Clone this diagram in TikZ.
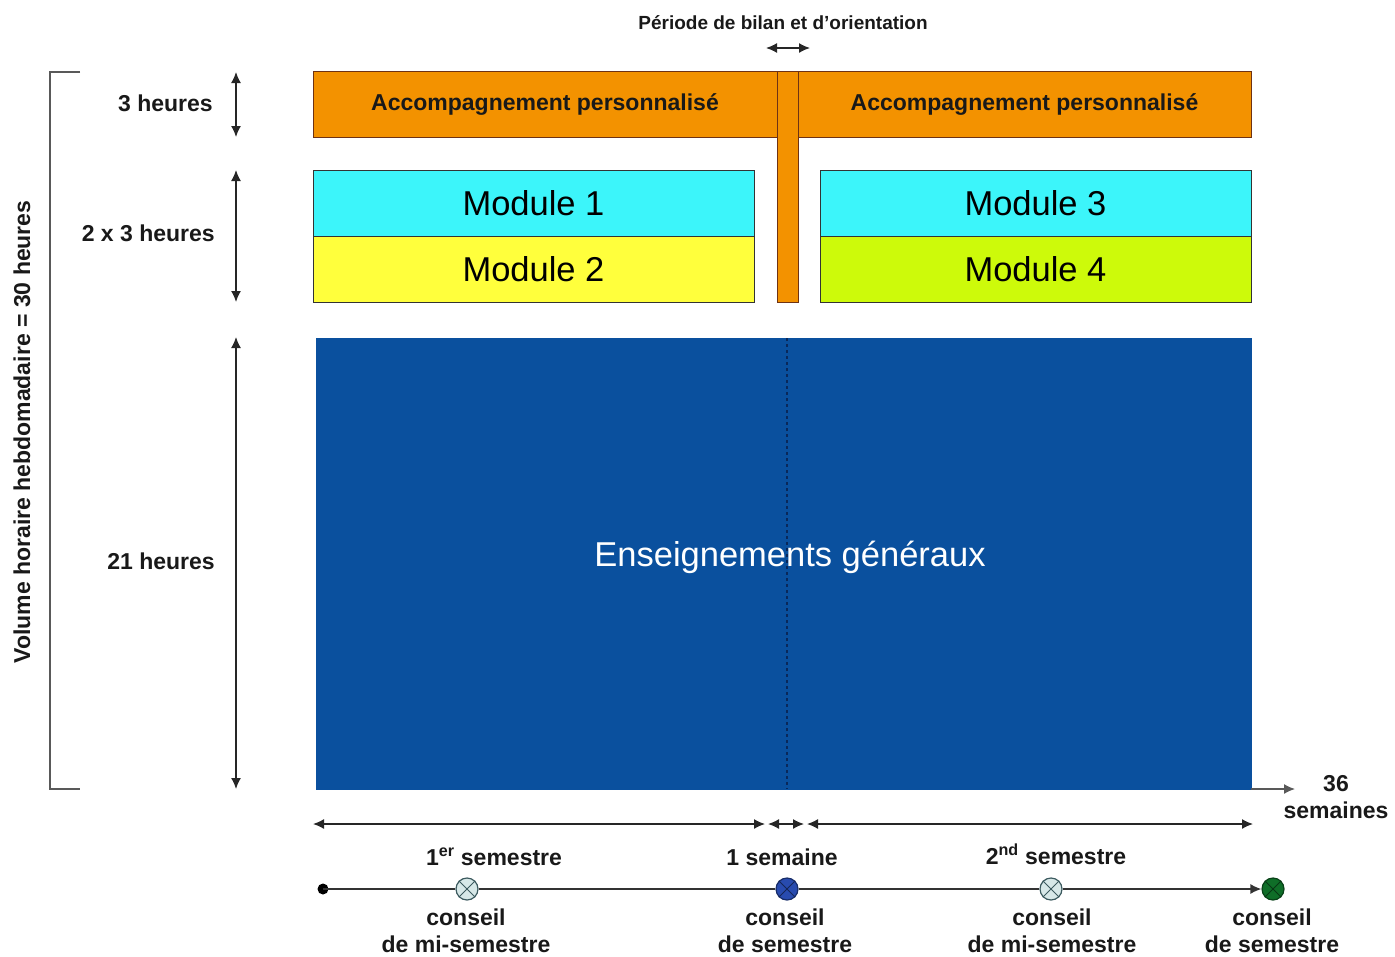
\documentclass[tikz,border=0pt]{standalone}
\usepackage{fontspec}
\setmainfont{Liberation Sans}
\usetikzlibrary{arrows.meta}

\definecolor{aporange}{RGB}{243,146,0}
\definecolor{apborder}{RGB}{110,50,20}
\definecolor{modcyan}{RGB}{60,245,250}
\definecolor{modyellow}{RGB}{255,255,60}
\definecolor{modlime}{RGB}{205,250,10}
\definecolor{ensblue}{RGB}{10,80,158}
\definecolor{ensdash}{RGB}{10,40,90}
\definecolor{midfill}{RGB}{215,232,232}
\definecolor{middraw}{RGB}{60,90,95}
\definecolor{semblue}{RGB}{40,75,175}
\definecolor{semgreen}{RGB}{15,110,40}

\newcommand\lblfont{\fontsize{23}{27}\selectfont\bfseries}
\newcommand\titlefont{\fontsize{19}{23}\selectfont\bfseries}
\newcommand\modfont{\fontsize{34.5}{40}\selectfont}

\begin{document}
\begin{tikzpicture}[x={(1pt,0)}, y={(0,-1pt)},
	dim/.style={<->, line width=1.4pt, black!85, >={Latex[length=11pt, width=10pt]}},
	box/.style={draw=#1, line width=0.9pt, inner sep=0pt, outer sep=0pt, anchor=north west},
	lbl/.style={font=\lblfont, text=black!90, align=center, inner sep=0pt},
	modlbl/.style={font=\modfont, text=black},
	conseil/.style={circle, draw=#1, line width=1.2pt, minimum size=22pt, inner sep=0pt},
	timeline/.style={line width=1.4pt, black!80, >={Latex[length=11pt, width=10pt]}}
	]
	\useasboundingbox (0,0) rectangle (1395,956);
	
	% Bracket for the weekly total
	\draw[gray!70!black, line width=1.8pt] (80,72) -- (50,72) -- (50,789) -- (80,789);
	\node[lbl, rotate=90] (total) at (22,432) {Volume horaire hebdomadaire = 30 heures};
	
	% Hour labels
	\node[lbl, anchor=east] (h3) at (213,103) {3 heures};
	\node[lbl, anchor=east] (h6) at (215,233) {2 x 3 heures};
	\node[lbl, anchor=east] (h21) at (215,561) {21 heures};
	
	% Hour dimensions
	\coordinate (d1a) at (236,72);  \coordinate (d1b) at (236,137);
	\coordinate (d2a) at (236,170); \coordinate (d2b) at (236,302);
	\coordinate (d3a) at (236,337); \coordinate (d3b) at (236,789);
	\draw[dim] (d1a) -- (d1b);
	\draw[dim] (d2a) -- (d2b);
	\draw[dim] (d3a) -- (d3b);
	
	% Accompagnement personnalise
	\node[box=apborder, fill=aporange, minimum width=21pt, minimum height=231pt] (pause) at (777,71) {};
	\node[box=apborder, fill=aporange, minimum width=464pt, minimum height=66pt, lbl] (ap1) at (313,71) {Accompagnement personnalisé};
	\node[box=apborder, fill=aporange, minimum width=453pt, minimum height=66pt, lbl] (ap2) at (798,71) {Accompagnement personnalisé};
	
	% Modules
	\node[box=black!80, fill=modcyan, minimum width=441pt, minimum height=66pt, modlbl] (mod1) at (313,170) {Module 1};
	\node[box=black!80, fill=modyellow, minimum width=441pt, minimum height=66pt, modlbl] (mod2) at (313,236) {Module 2};
	\node[box=black!80, fill=modcyan, minimum width=431pt, minimum height=66pt, modlbl] (mod3) at (820,170) {Module 3};
	\node[box=black!80, fill=modlime, minimum width=431pt, minimum height=66pt, modlbl] (mod4) at (820,236) {Module 4};
	
	% Enseignements generaux
	\node[box=ensblue, fill=ensblue, minimum width=935pt, minimum height=451pt] (ens) at (316,338) {};
	\node[modlbl, text=white] (enstxt) at (790,557) {Enseignements généraux};
	\coordinate (sepa) at (787,338); \coordinate (sepb) at (787,789);
	\draw[ensdash, dashed, line width=1.6pt] (sepa) -- (sepb);
	
	% Bilan period
	\node[font=\titlefont, text=black!90, inner sep=0pt] (bilan) at (783,23) {Période de bilan et d'orientation};
	\coordinate (b1) at (766,48); \coordinate (b2) at (810,48);
	\draw[dim] (b1) -- (b2);
	
	% Weeks axis
	\coordinate (axend) at (1295,789);
	\draw[timeline, gray!70!black, ->] (ens.south east) -- (axend);
	\node[lbl] (weeks) at (1336,797) {36\\semaines};
	
	% Semester spans
	\coordinate (s1a) at (313,824); \coordinate (s1b) at (765,824);
	\coordinate (s2a) at (768,824); \coordinate (s2b) at (804,824);
	\coordinate (s3a) at (807,824); \coordinate (s3b) at (1253,824);
	\draw[dim] (s1a) -- (s1b);
	\draw[dim] (s2a) -- (s2b);
	\draw[dim] (s3a) -- (s3b);
	\node[lbl] (sem1) at (494,857) {1\textsuperscript{er} semestre};
	\node[lbl] (week1) at (782,857) {1 semaine};
	\node[lbl] (sem2) at (1056,854) {2\textsuperscript{nd} semestre};
	
	% Timeline of conseils
	\fill[black] (323,889) circle (5.5pt) coordinate (tstart);
	\node[conseil=middraw, fill=midfill] (c1) at (467,889) {};
	\node[conseil=semblue!60!black, fill=semblue] (c2) at (787,889) {};
	\node[conseil=middraw, fill=midfill] (c3) at (1051,889) {};
	\node[conseil=semgreen!60!black, fill=semgreen] (c4) at (1273,889) {};
	\foreach \c/\col in {c1/middraw, c2/semblue!50!black, c3/middraw, c4/semgreen!50!black}{
		\draw[\col, line width=1pt] (\c.north west) -- (\c.south east) (\c.north east) -- (\c.south west);
	}
	\draw[timeline] (tstart) -- (c1.west);
	\draw[timeline] (c1.east) -- (c2.west);
	\draw[timeline] (c2.east) -- (c3.west);
	\draw[timeline, ->] (c3.east) -- (c4.west);
	
	\node[lbl] (l1) at (466,931) {conseil\\de mi-semestre};
	\node[lbl] (l2) at (785,931) {conseil\\de semestre};
	\node[lbl] (l3) at (1052,931) {conseil\\de mi-semestre};
	\node[lbl] (l4) at (1272,931) {conseil\\de semestre};
	
\end{tikzpicture}
\end{document}
